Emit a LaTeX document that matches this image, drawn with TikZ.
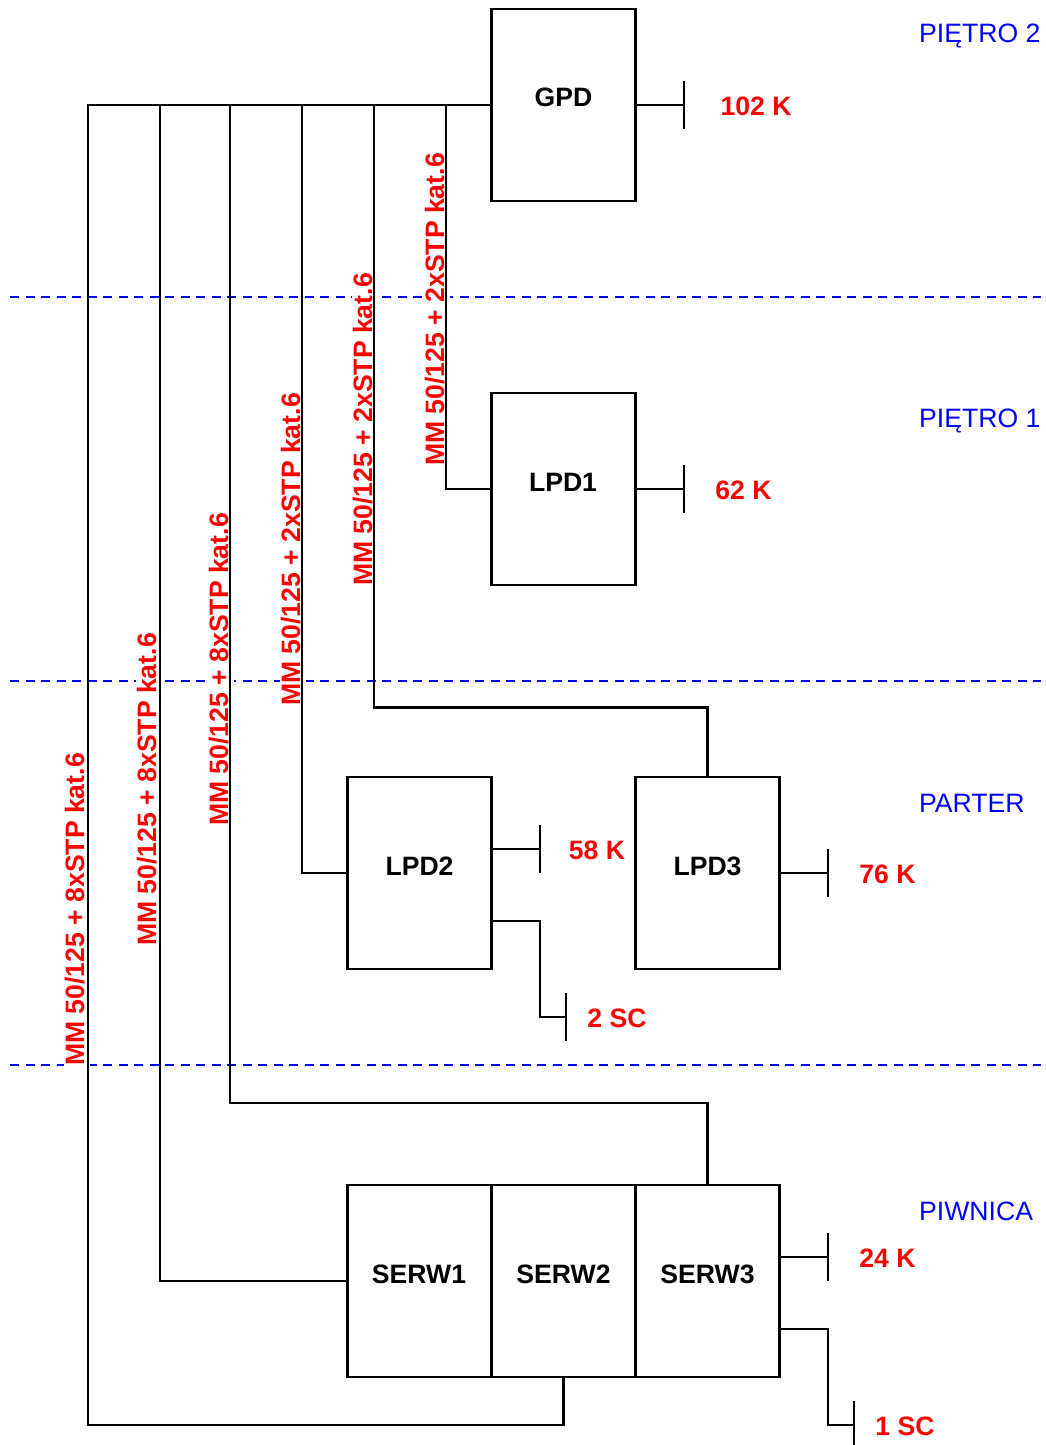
\documentclass[tikz,border=0pt]{standalone}
\usepackage{fontspec}
\setmainfont{Liberation Sans}
\definecolor{floorblue}{RGB}{0,0,255}
\tikzset{
  wire/.style={draw=black,line width=2.1pt,line join=miter},
  floorline/.style={draw=floorblue,line width=1.7pt,dash pattern=on 9pt off 6.5pt},
  box/.style={draw=black,line width=2.1pt,fill=white,minimum width=144pt,minimum height=192pt,inner sep=0pt,outer sep=0pt},
  boxtext/.style={font=\fontsize{26.6}{30}\selectfont\bfseries,text=black,inner sep=0pt},
  count/.style={font=\fontsize{26.6}{30}\selectfont\bfseries,text=red,inner sep=0pt},
  cable/.style={font=\fontsize{26.6}{30}\selectfont\bfseries,text=red,fill=white,rotate=90,inner xsep=0pt,inner ysep=1pt,minimum height=26pt,text height=19pt,text depth=5pt},
  floorname/.style={font=\fontsize{26.6}{30}\selectfont,text=floorblue,anchor=west,inner sep=0pt},
}
\begin{document}
\begin{tikzpicture}[x=1pt,y=-1pt]
\useasboundingbox (0,0) rectangle (1046,1445);
% floor separators
\coordinate (d1a) at (10,297); \coordinate (d1b) at (1041,297);
\coordinate (d2a) at (10,681); \coordinate (d2b) at (1041,681);
\coordinate (d3a) at (10,1065); \coordinate (d3b) at (1041,1065);
\draw[floorline] (d1a) -- (d1b);
\draw[floorline] (d2a) -- (d2b);
\draw[floorline] (d3a) -- (d3b);
% floor names
\node[floorname] (f2) at (919,35.5) {PIĘTRO 2};
\node[floorname] (f1) at (919,420.5) {PIĘTRO 1};
\node[floorname] (f0) at (919,803.5) {PARTER};
\node[floorname] (fm) at (919,1211.5) {PIWNICA};
% cable labels
\node[cable] (c1) at (437,309.5) {MM 50/125 + 2xSTP kat.6};
\node[cable] (c2) at (365,429.5) {MM 50/125 + 2xSTP kat.6};
\node[cable] (c3) at (293,549.5) {MM 50/125 + 2xSTP kat.6};
\node[cable] (c4) at (221,669.5) {MM 50/125 + 8xSTP kat.6};
\node[cable] (c5) at (149,789.5) {MM 50/125 + 8xSTP kat.6};
\node[cable] (c6) at (77,909.5) {MM 50/125 + 8xSTP kat.6};
% boxes
\node[box] (gpd) at (563.5,105) {};
\node[box] (lpd1) at (563.5,489) {};
\node[box] (lpd2) at (419.5,873) {};
\node[box] (lpd3) at (707.5,873) {};
\node[box] (s1) at (419.5,1281) {};
\node[box] (s2) at (563.5,1281) {};
\node[box] (s3) at (707.5,1281) {};
\node[boxtext] (tg) at (563.5,97.5) {GPD};
\node[boxtext] (t1) at (563,482.5) {LPD1};
\node[boxtext] (t2) at (419.5,866.5) {LPD2};
\node[boxtext] (t3) at (707.5,866.5) {LPD3};
\node[boxtext] (ts1) at (419,1274.5) {SERW1};
\node[boxtext] (ts2) at (563.5,1274.5) {SERW2};
\node[boxtext] (ts3) at (707.5,1274.5) {SERW3};
% main cables
\draw[wire] (gpd.west) -| (88,1425) -| (s2.south);
\draw[wire] (gpd.west) -| (160,1281) -- (s1.west);
\draw[wire] (gpd.west) -| (230,1103) -| (s3.north);
\draw[wire] (gpd.west) -| (302,873) -- (lpd2.west);
\draw[wire] (gpd.west) -| (374,707.5) -| (lpd3.north);
\draw[wire] (gpd.west) -| (446,489) -- (lpd1.west);
% outlets
\coordinate (o1a) at (684,81); \coordinate (o1b) at (684,129); \coordinate (o1) at (684,105);
\coordinate (o2a) at (684,465); \coordinate (o2b) at (684,513); \coordinate (o2) at (684,489);
\coordinate (o3a) at (540,825); \coordinate (o3b) at (540,873); \coordinate (o3) at (540,849);
\coordinate (o4a) at (566,993); \coordinate (o4b) at (566,1041); \coordinate (o4) at (566,1017);
\coordinate (o5a) at (828,849); \coordinate (o5b) at (828,897); \coordinate (o5) at (828,873);
\coordinate (o6a) at (828,1233); \coordinate (o6b) at (828,1281); \coordinate (o6) at (828,1257);
\coordinate (o7a) at (854,1401); \coordinate (o7b) at (854,1449); \coordinate (o7) at (854,1425);
\draw[wire] (o1a) -- (o1b);
\draw[wire] (o2a) -- (o2b);
\draw[wire] (o3a) -- (o3b);
\draw[wire] (o4a) -- (o4b);
\draw[wire] (o5a) -- (o5b);
\draw[wire] (o6a) -- (o6b);
\draw[wire] (o7a) -- (o7b);
\draw[wire] (gpd.east) -- (o1);
\draw[wire] (lpd1.east) -- (o2);
\draw[wire] (491.5,849) -- (o3);
\draw[wire] (491.5,921) -- (540,921) -- (540,1017) -- (o4);
\draw[wire] (lpd3.east) -- (o5);
\draw[wire] (779.5,1257) -- (o6);
\draw[wire] (779.5,1329) -- (828,1329) -- (828,1425) -- (o7);
% counts
\node[count] (k1) at (756,106) {102 K};
\node[count] (k2) at (743.5,490) {62 K};
\node[count] (k3) at (597,850) {58 K};
\node[count] (k4) at (617,1018) {2 SC};
\node[count] (k5) at (887.5,874) {76 K};
\node[count] (k6) at (887.5,1258) {24 K};
\node[count] (k7) at (905,1426) {1 SC};
\end{tikzpicture}
\end{document}
